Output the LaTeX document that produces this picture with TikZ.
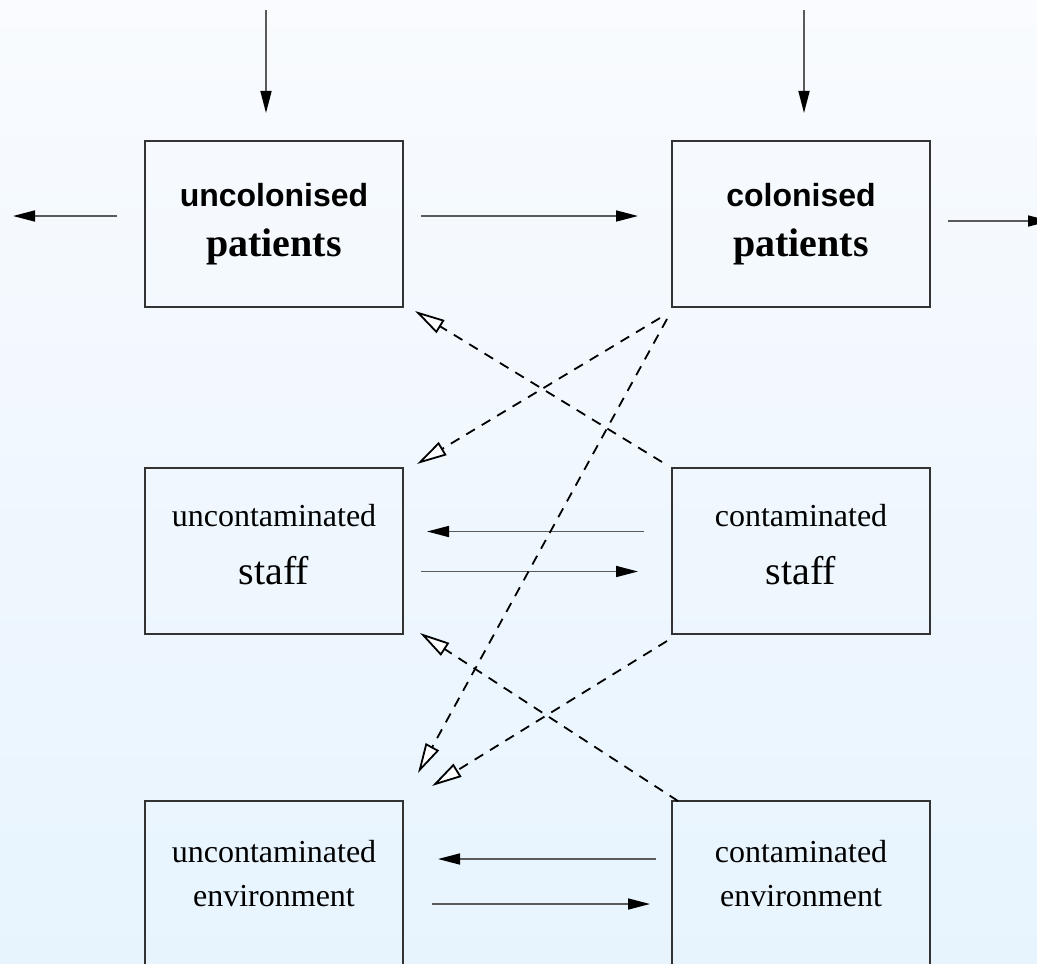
\documentclass[tikz,border=0pt]{standalone}
\usepackage{fontspec}
\setmainfont{Liberation Serif}
\setsansfont{Liberation Sans}
\usetikzlibrary{arrows.meta, positioning}
\definecolor{fondoarriba}{RGB}{249,251,254}
\definecolor{fondoabajo}{RGB}{231,244,254}
\definecolor{linea}{RGB}{90,90,90}

\begin{document}
\begin{tikzpicture}[
  x=0.5pt, y=-0.5pt,
  node distance=80.5pt and 134.5pt,
  caja/.style={rectangle, draw=black!80, line width=0.7pt, minimum width=129pt,
    minimum height=83pt, inner sep=0pt, outer sep=0pt, align=center},
  flecha/.style={draw=linea, line width=0.7pt,
    -{Triangle[length=11pt, width=5.5pt, line width=0.8pt, color=black, fill=black]}},
  flechadisc/.style={dash pattern=on 5pt off 4pt, line width=0.9pt,
    -{Triangle[length=15pt, width=7.5pt, line width=0.9pt, fill=white]}}
]
  \useasboundingbox (0,0) rectangle (1037,963);
  \fill[top color=fondoarriba, bottom color=fondoabajo] (0,0) rectangle (1037,963);

  % pacientes
  \node[caja, font=\fontsize{16pt}{25pt}\selectfont] (nocol) at (274,224)
    {{\sffamily\bfseries uncolonised}\\{\bfseries\fontsize{20pt}{25pt}\selectfont patients}};
  \node[caja, font=\fontsize{16pt}{25pt}\selectfont, right=of nocol] (col)
    {{\sffamily\bfseries colonised}\\{\bfseries\fontsize{20pt}{25pt}\selectfont patients}};
  % personal
  \node[caja, font=\fontsize{16pt}{29pt}\selectfont, text depth=7pt, below=of nocol] (nocontper)
    {uncontaminated\\{\fontsize{20pt}{29pt}\selectfont staff}};
  \node[caja, font=\fontsize{16pt}{29pt}\selectfont, text depth=7pt, below=of col] (contper)
    {contaminated\\{\fontsize{20pt}{29pt}\selectfont staff}};
  % ambiente
  \node[caja, font=\fontsize{16pt}{22pt}\selectfont, text depth=11pt, below=83.5pt of nocontper] (nocontamb)
    {uncontaminated\\environment};
  \node[caja, font=\fontsize{16pt}{22pt}\selectfont, text depth=11pt, below=83.5pt of contper] (contamb)
    {contaminated\\environment};

  % entradas y salidas
  \coordinate (entra1) at (266,10);
  \coordinate (entra2) at (804,10);
  \coordinate (sale1) at (13,216);
  \coordinate (sale2) at (1050,221);

  \draw[flecha, shorten >=14pt] (entra1) -- (entra1 |- nocol.north);
  \draw[flecha, shorten >=14pt] (entra2) -- (entra2 |- col.north);
  \draw[flecha, shorten <=14pt] (nocol.west |- sale1) -- (sale1);
  \draw[flecha, shorten <=9pt] (col.east |- sale2) -- (sale2);

  \draw[flecha, shorten <=9pt, shorten >=17pt] ([yshift=4pt]nocol.east) -- ([yshift=4pt]col.west);
  \draw[flecha, shorten <=14pt, shorten >=12pt] ([yshift=9.75pt]contper.west) -- ([yshift=9.75pt]nocontper.east);
  \draw[flecha, shorten <=9pt, shorten >=17pt] ([yshift=-10.25pt]nocontper.east) -- ([yshift=-10.25pt]contper.west);
  \draw[flecha, shorten <=8pt, shorten >=17.5pt] ([yshift=12.5pt]contamb.west) -- ([yshift=12.5pt]nocontamb.east);
  \draw[flecha, shorten <=14.5pt, shorten >=11pt] ([yshift=-10pt]nocontamb.east) -- ([yshift=-10pt]contamb.west);

  % contagios
  \draw[flechadisc] ([shift={(-5pt,3pt)}]contper.north west) -- ([shift={(6pt,-2pt)}]nocol.south east);
  \draw[flechadisc] ([shift={(-6pt,-5.5pt)}]col.south west) -- ([shift={(7pt,2pt)}]nocontper.north east);
  \draw[flechadisc] ([shift={(-2.5pt,-6pt)}]col.south west) -- ([shift={(7.5pt,14pt)}]nocontamb.north east);
  \draw[flechadisc] ([xshift=3pt]contamb.north west) -- ([shift={(8.5pt,0.5pt)}]nocontper.south east);
  \draw[flechadisc] ([shift={(-2.5pt,-3.5pt)}]contper.south west) -- ([shift={(14.5pt,7.5pt)}]nocontamb.north east);
\end{tikzpicture}
\end{document}
